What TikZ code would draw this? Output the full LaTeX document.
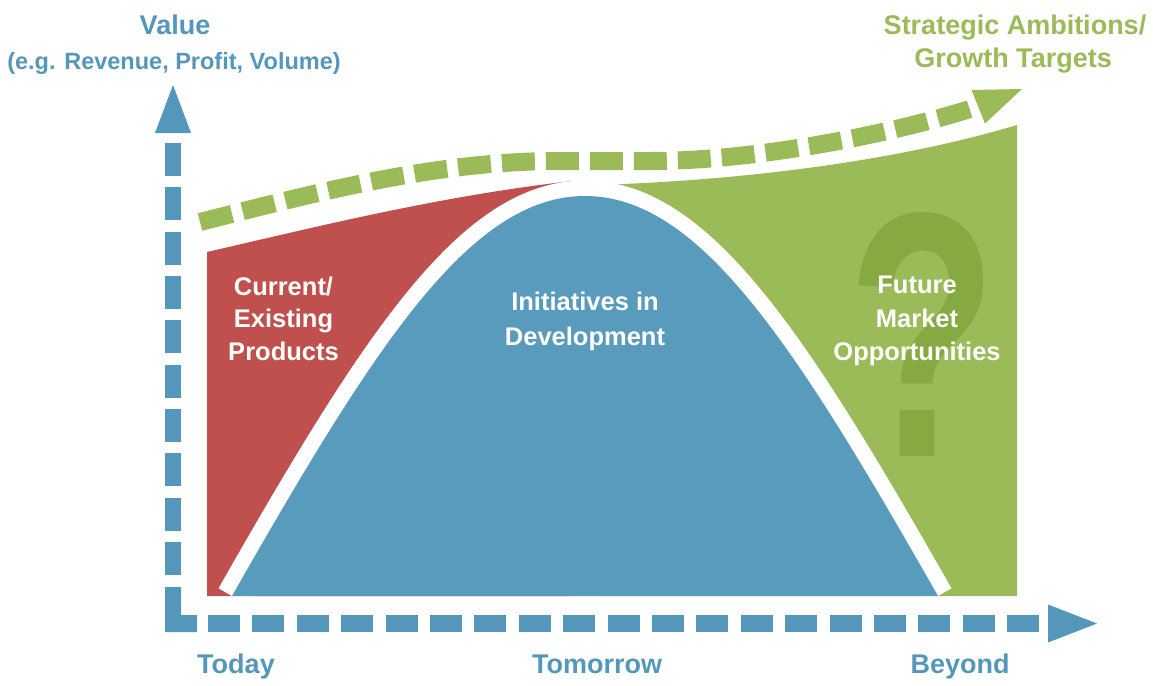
\documentclass[tikz,border=0pt]{standalone}
\usepackage{fontspec}
\setmainfont{Liberation Sans}
\definecolor{vblue}{RGB}{89,155,188}
\definecolor{axisblue}{RGB}{84,151,186}
\definecolor{vred}{RGB}{192,80,77}
\definecolor{vgreen}{RGB}{155,187,89}
\definecolor{qgreen}{RGB}{134,169,66}
\begin{document}
\begin{tikzpicture}[x=1pt,y=-1pt,
  txt/.style={inner sep=0pt, anchor=base, font=\bfseries\fontsize{#1}{#1}\selectfont},
  inner/.style={txt=25.5, text=white},
  axislbl/.style={txt=27, text=axisblue},
  bellpath/.style={insert path={(232,596) .. controls (374.5,346) and (470,196) .. (585,196)
    .. controls (700,196) and (795.5,346) .. (938,596)}}]
\useasboundingbox (0,0) rectangle (1153,685);

% today's products (red) and future opportunities (green)
\fill[vred] (207,596) -- (207,252) .. controls (320,226) and (440,196) .. (572,181)
  -- (572,596) -- cycle;
\fill[vgreen] (598,596) -- (598,185) .. controls (750,180) and (900,160) .. (1017,125)
  -- (1017,596) -- cycle;

% question mark behind the future label
\node[inner sep=0pt, anchor=south, text=qgreen,
  font=\bfseries\fontsize{246}{246}\selectfont] (qmark) at (922.5,457)
  {\scalebox{1}[1.42]{?}};

% initiatives bell with its white border
\fill[vblue, preaction={draw=white, line width=31}] [bellpath];

% region labels
\node[inner] (cur1) at (283.5,295) {Current/};
\node[inner] (cur2) at (283.5,327) {Existing};
\node[inner] (cur3) at (283.5,360) {Products};
\node[inner] (ini1) at (585,310) {Initiatives in};
\node[inner] (ini2) at (585,345) {Development};
\node[inner] (fut1) at (917,293) {Future};
\node[inner] (fut2) at (917,327) {Market};
\node[inner] (fut3) at (917,360) {Opportunities};

% dashed axes
\foreach \i in {0,...,9}
  \fill[axisblue] (165,{143+44.35*\i}) rectangle (181,{176+44.35*\i});
\fill[axisblue] (165,587) -- (181,587) -- (181,615) -- (197,615) -- (197,632)
  -- (165,632) -- cycle;
\foreach \i in {0,...,18}
  \fill[axisblue] ({208+44.4*\i},615) rectangle ({240+44.4*\i},632);
\fill[axisblue] (155,133) -- (173,85) -- (191,133) -- cycle;
\fill[axisblue] (1048,604.5) -- (1097,623.5) -- (1048,642.5) -- cycle;

% ambition trend line
\draw[vgreen, line width=18, dash pattern=on 33pt off 11pt]
  (200,222) .. controls (330,189) and (440,161) .. (560,161) -- (650,161)
  .. controls (760,161) and (900,132) .. (976,107);
\fill[vgreen] (971.5,90) -- (1022,89) -- (985,123.5) -- cycle;

% axis and target labels
\node[axislbl] (value) at (175,35) {Value};
\node[txt=23.5, text=axisblue] (valuesub) at (174,70) {(e.g. Revenue, Profit, Volume)};
\node[txt=27, text=vgreen] (amb1) at (1015,35) {Strategic Ambitions/};
\node[txt=27, text=vgreen] (amb2) at (1013,67) {Growth Targets};
\node[axislbl] (today) at (236,673) {Today};
\node[axislbl] (tomorrow) at (597,673) {Tomorrow};
\node[axislbl] (beyond) at (960,673) {Beyond};
\end{tikzpicture}
\end{document}
